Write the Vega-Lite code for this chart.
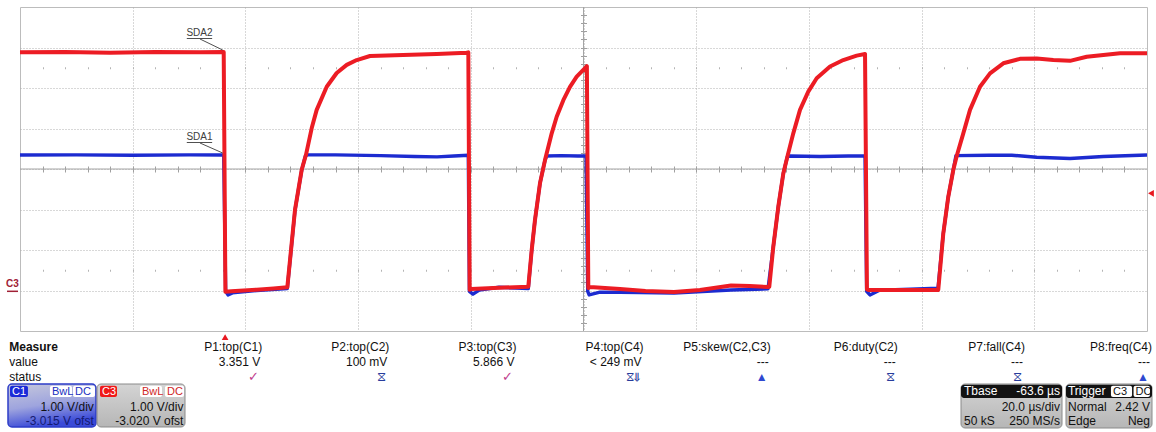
{
  "$schema": "https://vega.github.io/schema/vega-lite/v6.json",
  "width": 1127,
  "height": 324,
  "autosize": {"type": "none"},
  "padding": {"left": 20, "top": 7, "right": 9, "bottom": 101},
  "background": "white",
  "config": {"font": "Liberation Sans", "view": {"stroke": "#bcbcbc", "strokeWidth": 1}},
  "datasets": {
    "C1": [
      {"t": -100, "v": 3.366}, {"t": -90, "v": 3.37}, {"t": -80, "v": 3.36}, {"t": -70, "v": 3.37}, {"t": -63.85, "v": 3.366},
      {"t": -63.5, "v": 0.0}, {"t": -63.09, "v": -0.09}, {"t": -62.3, "v": -0.04}, {"t": -58, "v": 0.02}, {"t": -52.56, "v": 0.07},
      {"t": -51.2, "v": 2.0}, {"t": -50.01, "v": 2.99}, {"t": -49.35, "v": 3.34}, {"t": -49.0, "v": 3.37}, {"t": -44, "v": 3.37},
      {"t": -36, "v": 3.35}, {"t": -30, "v": 3.33}, {"t": -26, "v": 3.32}, {"t": -23, "v": 3.34}, {"t": -20.44, "v": 3.36},
      {"t": -20.25, "v": 0.0}, {"t": -19.61, "v": -0.07}, {"t": -18.5, "v": 0.03}, {"t": -15, "v": 0.1}, {"t": -12, "v": 0.08}, {"t": -9.8, "v": 0.07},
      {"t": -9.19, "v": 1.02}, {"t": -8.61, "v": 1.76}, {"t": -7.72, "v": 2.67}, {"t": -6.83, "v": 3.24}, {"t": -6.53, "v": 3.34},
      {"t": -4, "v": 3.35}, {"t": -1, "v": 3.34}, {"t": 0.45, "v": 3.34},
      {"t": 0.75, "v": 0.0}, {"t": 1.0, "v": -0.09}, {"t": 2.93, "v": -0.02}, {"t": 10, "v": -0.03}, {"t": 16.06, "v": -0.042}, {"t": 26.18, "v": 0.032}, {"t": 32.74, "v": 0.06},
      {"t": 33.68, "v": 1.1}, {"t": 34.57, "v": 2.09}, {"t": 35.46, "v": 2.91}, {"t": 36.17, "v": 3.32}, {"t": 36.6, "v": 3.34},
      {"t": 42, "v": 3.33}, {"t": 47, "v": 3.34}, {"t": 49.96, "v": 3.34},
      {"t": 50.25, "v": 0.0}, {"t": 50.84, "v": -0.09}, {"t": 52.62, "v": 0.03}, {"t": 58, "v": 0.05}, {"t": 62.91, "v": 0.074},
      {"t": 63.85, "v": 1.43}, {"t": 64.74, "v": 2.34}, {"t": 65.63, "v": 3.0}, {"t": 66.1, "v": 3.35}, {"t": 72, "v": 3.36},
      {"t": 76, "v": 3.36}, {"t": 80.43, "v": 3.31}, {"t": 86.34, "v": 3.28}, {"t": 92.25, "v": 3.33}, {"t": 100, "v": 3.366}
    ],
    "C3": [
      {"t": -100, "v": 5.9}, {"t": -92, "v": 5.91}, {"t": -84, "v": 5.89}, {"t": -76, "v": 5.91}, {"t": -68, "v": 5.9}, {"t": -63.85, "v": 5.91},
      {"t": -63.55, "v": -0.01}, {"t": -62.5, "v": 0.0}, {"t": -58, "v": 0.04}, {"t": -55, "v": 0.07}, {"t": -52.56, "v": 0.1},
      {"t": -51.2, "v": 2.01}, {"t": -50.61, "v": 2.5}, {"t": -50.01, "v": 3.0}, {"t": -49.25, "v": 3.37}, {"t": -48.23, "v": 4.03},
      {"t": -47.35, "v": 4.48}, {"t": -45.57, "v": 5.05}, {"t": -43.8, "v": 5.39}, {"t": -42.02, "v": 5.59}, {"t": -40.25, "v": 5.71},
      {"t": -37.89, "v": 5.81}, {"t": -32.03, "v": 5.835}, {"t": -26.05, "v": 5.86}, {"t": -20.73, "v": 5.89}, {"t": -20.44, "v": 5.9},
      {"t": -20.2, "v": 0.04}, {"t": -19.9, "v": 0.06}, {"t": -15, "v": 0.09}, {"t": -9.8, "v": 0.11},
      {"t": -9.19, "v": 1.02}, {"t": -8.61, "v": 1.76}, {"t": -7.72, "v": 2.67}, {"t": -6.83, "v": 3.24}, {"t": -5.64, "v": 3.9},
      {"t": -4.76, "v": 4.31}, {"t": -3.58, "v": 4.72}, {"t": -2.4, "v": 5.05}, {"t": -1.21, "v": 5.3}, {"t": 0.27, "v": 5.51}, {"t": 0.6, "v": 5.56},
      {"t": 0.85, "v": 0.08}, {"t": 1.15, "v": 0.107}, {"t": 6.48, "v": 0.057}, {"t": 11, "v": 0.01}, {"t": 16.06, "v": -0.017},
      {"t": 20.67, "v": 0.032}, {"t": 26.18, "v": 0.144}, {"t": 29.5, "v": 0.13}, {"t": 32.74, "v": 0.107}, {"t": 32.97, "v": 0.11},
      {"t": 33.68, "v": 1.1}, {"t": 34.57, "v": 2.09}, {"t": 35.46, "v": 2.91}, {"t": 36.17, "v": 3.32}, {"t": 37.23, "v": 3.9},
      {"t": 38.42, "v": 4.48}, {"t": 39.89, "v": 4.93}, {"t": 41.38, "v": 5.26}, {"t": 43.75, "v": 5.55}, {"t": 46.1, "v": 5.71},
      {"t": 48.48, "v": 5.82}, {"t": 49.96, "v": 5.86},
      {"t": 50.3, "v": 0.05}, {"t": 50.67, "v": 0.03}, {"t": 56, "v": 0.03}, {"t": 62.91, "v": 0.03}, {"t": 62.96, "v": 0.04},
      {"t": 63.85, "v": 1.43}, {"t": 64.74, "v": 2.34}, {"t": 65.63, "v": 3.0}, {"t": 66.23, "v": 3.34}, {"t": 67.4, "v": 3.9},
      {"t": 68.59, "v": 4.48}, {"t": 70.36, "v": 5.05}, {"t": 72.14, "v": 5.38}, {"t": 74.5, "v": 5.63}, {"t": 77.46, "v": 5.74},
      {"t": 80.43, "v": 5.75}, {"t": 83.37, "v": 5.71}, {"t": 86.34, "v": 5.69}, {"t": 89.3, "v": 5.79}, {"t": 92.25, "v": 5.835},
      {"t": 95.21, "v": 5.877}, {"t": 100, "v": 5.877}
    ],
    "traceLabels": [
      {"label": "SDA2", "t": -68.15, "v": 6.378},
      {"label": "SDA1", "t": -68.15, "v": 3.81}
    ],
    "traceLabelLines": [
      {"label": "SDA2", "part": "underline", "t": -70.4, "v": 6.242, "t2": -65.9, "v2": 6.242},
      {"label": "SDA2", "part": "leader", "t": -68.06, "v": 6.23, "t2": -64.03, "v2": 5.958},
      {"label": "SDA1", "part": "underline", "t": -70.4, "v": 3.674, "t2": -65.9, "v2": 3.674},
      {"label": "SDA1", "part": "leader", "t": -68.06, "v": 3.662, "t2": -64.03, "v2": 3.415}
    ],
    "markers": [
      {"marker": "trigger time", "t": -63.6, "v": -1.13},
      {"marker": "trigger level", "t": 100.7, "v": 2.42}
    ],
    "ground": [
      {"label": "C3", "t": -101.33, "v": 0.045, "t0": -102.31, "t1": -100.35, "level": 0.0}
    ],
    "rows": [
      {"row": "Measure", "line": 1},
      {"row": "value", "line": 2},
      {"row": "status", "line": 3}
    ],
    "meas": [
      {"p": 1, "name": "P1:top(C1)", "value": "3.351 V", "status": "ok", "icon": "✓"},
      {"p": 2, "name": "P2:top(C2)", "value": "100 mV", "status": "no signal", "icon": "⧖"},
      {"p": 3, "name": "P3:top(C3)", "value": "5.866 V", "status": "ok", "icon": "✓"},
      {"p": 4, "name": "P4:top(C4)", "value": "< 249 mV", "status": "underflow", "icon": "⧖⇓"},
      {"p": 5, "name": "P5:skew(C2,C3)", "value": "---", "status": "warning", "icon": "▲"},
      {"p": 6, "name": "P6:duty(C2)", "value": "---", "status": "no signal", "icon": "⧖"},
      {"p": 7, "name": "P7:fall(C4)", "value": "---", "status": "no signal", "icon": "⧖"},
      {"p": 8, "name": "P8:freq(C4)", "value": "---", "status": "warning", "icon": "▲"}
    ],
    "panels": [
      {"panel": "C1", "c0": -1.0, "c1": -0.3077, "l0": 3.467, "l1": 6.333},
      {"panel": "C3", "c0": -0.2998, "c1": 0.3925, "l0": 3.467, "l1": 6.333},
      {"panel": "Tbase", "c0": 6.4975, "c1": 7.292, "l0": 3.467, "l1": 6.4},
      {"panel": "Trigger", "c0": 7.3235, "c1": 8.0, "l0": 3.467, "l1": 6.4}
    ],
    "chips": [
      {"panel": "C1", "chip": "C1", "role": "C1 tag", "c0": -0.984, "c1": -0.843},
      {"panel": "C1", "chip": "BwL", "role": "C1 option", "c0": -0.67, "c1": -0.4965},
      {"panel": "C1", "chip": "DC", "role": "C1 option", "c0": -0.489, "c1": -0.3156},
      {"panel": "C3", "chip": "C3", "role": "C3 tag", "c0": -0.2762, "c1": -0.1425},
      {"panel": "C3", "chip": "BwL", "role": "C3 option", "c0": 0.0385, "c1": 0.2115},
      {"panel": "C3", "chip": "DC", "role": "C3 option", "c0": 0.2351, "c1": 0.3846},
      {"panel": "Trigger", "chip": "C3", "role": "trigger option", "c0": 7.677, "c1": 7.843},
      {"panel": "Trigger", "chip": "DC", "role": "trigger option", "c0": 7.855, "c1": 7.984}
    ],
    "settings": [
      {"panel": "C1", "text": "1.00 V/div", "side": "right", "role": "setting", "c": -0.325, "line": 5.0},
      {"panel": "C1", "text": "-3.015 V ofst", "side": "right", "role": "C1 offset", "c": -0.325, "line": 5.9},
      {"panel": "C3", "text": "1.00 V/div", "side": "right", "role": "setting", "c": 0.38, "line": 5.0},
      {"panel": "C3", "text": "-3.020 V ofst", "side": "right", "role": "setting", "c": 0.38, "line": 5.9},
      {"panel": "Tbase", "text": "Tbase", "side": "left", "role": "header", "c": 6.521, "line": 3.95},
      {"panel": "Tbase", "text": "-63.6 µs", "side": "right", "role": "header", "c": 7.276, "line": 3.95},
      {"panel": "Tbase", "text": "20.0 µs/div", "side": "right", "role": "setting", "c": 7.276, "line": 5.0},
      {"panel": "Tbase", "text": "50 kS", "side": "left", "role": "setting", "c": 6.521, "line": 5.9},
      {"panel": "Tbase", "text": "250 MS/s", "side": "right", "role": "setting", "c": 7.276, "line": 5.9},
      {"panel": "Trigger", "text": "Trigger", "side": "left", "role": "header", "c": 7.339, "line": 3.95},
      {"panel": "Trigger", "text": "Normal", "side": "left", "role": "setting", "c": 7.339, "line": 5.0},
      {"panel": "Trigger", "text": "2.42 V", "side": "right", "role": "setting", "c": 7.984, "line": 5.0},
      {"panel": "Trigger", "text": "Edge", "side": "left", "role": "setting", "c": 7.339, "line": 5.9},
      {"panel": "Trigger", "text": "Neg", "side": "right", "role": "setting", "c": 7.984, "line": 5.9}
    ]
  },
  "layer": [
    {
      "layer": [
        {
          "data": {"values": [{"t": 0}]},
          "mark": {"type": "rule", "color": "#a4a4a4", "strokeWidth": 1},
          "encoding": {
            "x": {"field": "t", "type": "quantitative", "scale": {"domain": [-100, 100], "nice": false, "zero": false},
              "axis": {"orient": "bottom", "offset": -165, "values": [-96,-92,-88,-84,-80,-76,-72,-68,-64,-60,-56,-52,-48,-44,-40,-36,-32,-28,-24,-20,-16,-12,-8,-4,0,4,8,12,16,20,24,28,32,36,40,44,48,52,56,60,64,68,72,76,80,84,88,92,96],
                "ticks": true, "tickSize": 6, "tickColor": "#a0a0a0", "tickWidth": 1, "labels": false, "domain": false, "grid": false, "title": null}}
          }
        },
        {
          "data": {"values": [{"v": 3.02}]},
          "mark": {"type": "rule", "color": "#a4a4a4", "strokeWidth": 1},
          "encoding": {
            "y": {"field": "v", "type": "quantitative", "scale": {"domain": [-0.98, 7.02], "nice": false, "zero": false},
              "axis": {"orient": "left", "offset": -566.5, "values": [-0.78,-0.58,-0.38,-0.18,0.02,0.22,0.42,0.62,0.82,1.02,1.22,1.42,1.62,1.82,2.02,2.22,2.42,2.62,2.82,3.02,3.22,3.42,3.62,3.82,4.02,4.22,4.42,4.62,4.82,5.02,5.22,5.42,5.62,5.82,6.02,6.22,6.42,6.62,6.82],
                "ticks": true, "tickSize": 6, "tickColor": "#a0a0a0", "tickWidth": 1, "labels": false, "domain": false, "grid": false, "title": null}}
          }
        },
        {
          "data": {"name": "C1"},
          "mark": {"type": "line", "color": "#1c2bd0", "strokeWidth": 3.4, "strokeJoin": "round"},
          "encoding": {
            "x": {"field": "t", "type": "quantitative", "scale": {"domain": [-100, 100], "nice": false, "zero": false},
              "axis": {"orient": "bottom", "values": [-80,-60,-40,-20,0,20,40,60,80], "grid": true, "gridColor": "#b0b0b0", "gridDash": [1, 2], "gridWidth": 1, "ticks": false, "labels": false, "domain": false, "title": null}},
            "y": {"field": "v", "type": "quantitative", "scale": {"domain": [-0.98, 7.02], "nice": false, "zero": false},
              "axis": {"orient": "left", "values": [0.02,1.02,2.02,3.02,4.02,5.02,6.02], "grid": true, "gridColor": "#b0b0b0", "gridDash": [1, 2], "gridWidth": 1, "ticks": false, "labels": false, "domain": false, "title": null}}
          }
        },
        {
          "data": {"name": "C3"},
          "mark": {"type": "line", "color": "#ec1c24", "strokeWidth": 4, "strokeJoin": "round"},
          "encoding": {
            "x": {"field": "t", "type": "quantitative", "scale": {"domain": [-100, 100], "nice": false, "zero": false},
              "axis": {"orient": "bottom", "offset": -264.25, "values": [-96,-92,-88,-84,-80,-76,-72,-68,-64,-60,-56,-52,-48,-44,-40,-36,-32,-28,-24,-20,-16,-12,-8,-4,0,4,8,12,16,20,24,28,32,36,40,44,48,52,56,60,64,68,72,76,80,84,88,92,96],
                "ticks": true, "tickSize": 2, "tickColor": "#b4b4b4", "tickWidth": 1, "labels": false, "domain": false, "grid": false, "title": null}},
            "y": {"field": "v", "type": "quantitative", "scale": {"domain": [-0.98, 7.02], "nice": false, "zero": false}, "axis": null}
          }
        },
        {
          "data": {"name": "traceLabelLines"},
          "mark": {"type": "rule", "color": "#505050", "strokeWidth": 1},
          "encoding": {
            "x": {"field": "t", "type": "quantitative", "scale": {"domain": [-100, 100], "nice": false, "zero": false},
              "axis": {"orient": "bottom", "offset": -61.75, "values": [-96,-92,-88,-84,-80,-76,-72,-68,-64,-60,-56,-52,-48,-44,-40,-36,-32,-28,-24,-20,-16,-12,-8,-4,0,4,8,12,16,20,24,28,32,36,40,44,48,52,56,60,64,68,72,76,80,84,88,92,96],
                "ticks": true, "tickSize": 2, "tickColor": "#b4b4b4", "tickWidth": 1, "labels": false, "domain": false, "grid": false, "title": null}},
            "x2": {"field": "t2"},
            "y": {"field": "v", "type": "quantitative", "scale": {"domain": [-0.98, 7.02], "nice": false, "zero": false}, "axis": null},
            "y2": {"field": "v2"}
          }
        },
        {
          "data": {"name": "traceLabels"},
          "mark": {"type": "text", "fontSize": 10, "color": "#404040", "align": "center", "baseline": "middle"},
          "encoding": {
            "x": {"field": "t", "type": "quantitative", "scale": {"domain": [-100, 100], "nice": false, "zero": false}, "axis": null},
            "y": {"field": "v", "type": "quantitative", "scale": {"domain": [-0.98, 7.02], "nice": false, "zero": false}, "axis": null},
            "text": {"field": "label"}
          }
        },
        {
          "data": {"name": "markers"},
          "mark": {"type": "point", "filled": true, "color": "#e81820", "opacity": 1, "size": 45},
          "encoding": {
            "x": {"field": "t", "type": "quantitative", "scale": {"domain": [-100, 100], "nice": false, "zero": false}, "axis": null},
            "y": {"field": "v", "type": "quantitative", "scale": {"domain": [-0.98, 7.02], "nice": false, "zero": false}, "axis": null},
            "shape": {"field": "marker", "type": "nominal", "scale": {"domain": ["trigger time", "trigger level"], "range": ["triangle-up", "triangle-left"]}, "legend": null}
          }
        },
        {
          "data": {"name": "ground"},
          "mark": {"type": "text", "fontSize": 10, "fontWeight": "bold", "color": "#a02035", "align": "center", "baseline": "bottom"},
          "encoding": {
            "x": {"field": "t", "type": "quantitative", "scale": {"domain": [-100, 100], "nice": false, "zero": false}, "axis": null},
            "y": {"field": "v", "type": "quantitative", "scale": {"domain": [-0.98, 7.02], "nice": false, "zero": false}, "axis": null},
            "text": {"field": "label"}
          }
        },
        {
          "data": {"name": "ground"},
          "mark": {"type": "rule", "color": "#a02035", "strokeWidth": 1.5},
          "encoding": {
            "x": {"field": "t0", "type": "quantitative", "scale": {"domain": [-100, 100], "nice": false, "zero": false}, "axis": null},
            "x2": {"field": "t1"},
            "y": {"field": "level", "type": "quantitative", "scale": {"domain": [-0.98, 7.02], "nice": false, "zero": false}, "axis": null}
          }
        }
      ],
      "resolve": {"axis": {"x": "independent", "y": "independent"}}
    },
    {
      "layer": [
        {
          "data": {"name": "panels"},
          "transform": [{"filter": "datum.panel === 'C1'"}],
          "mark": {"type": "rect", "cornerRadius": 4, "stroke": "#2c3cc8", "strokeWidth": 1.5,
            "fill": {"gradient": "linear", "x1": 0, "y1": 0, "x2": 0.3, "y2": 1, "stops": [{"offset": 0, "color": "#c6c8dc"}, {"offset": 0.55, "color": "#9ea4de"}, {"offset": 1, "color": "#3a4ad8"}]}},
          "encoding": {
            "x": {"field": "c0", "type": "quantitative", "scale": {"domain": [-1, 8], "range": [-12, 1132], "nice": false, "zero": false}, "axis": null},
            "x2": {"field": "c1"},
            "y": {"field": "l0", "type": "quantitative", "scale": {"domain": [0, 7], "range": [325, 430], "nice": false, "zero": false}, "axis": null},
            "y2": {"field": "l1"}
          }
        },
        {
          "data": {"name": "panels"},
          "transform": [{"filter": "datum.panel !== 'C1'"}],
          "mark": {"type": "rect", "cornerRadius": 4, "stroke": "#8a8a8a", "strokeWidth": 1,
            "fill": {"gradient": "linear", "x1": 0, "y1": 0, "x2": 0, "y2": 1, "stops": [{"offset": 0, "color": "#d4d4d4"}, {"offset": 1, "color": "#b6b6b6"}]}},
          "encoding": {
            "x": {"field": "c0", "type": "quantitative", "scale": {"domain": [-1, 8], "range": [-12, 1132], "nice": false, "zero": false}, "axis": null},
            "x2": {"field": "c1"},
            "y": {"field": "l0", "type": "quantitative", "scale": {"domain": [0, 7], "range": [325, 430], "nice": false, "zero": false}, "axis": null},
            "y2": {"field": "l1"}
          }
        },
        {
          "data": {"name": "panels"},
          "transform": [{"filter": "datum.panel === 'Tbase' || datum.panel === 'Trigger'"}],
          "mark": {"type": "rect", "cornerRadius": 3, "color": "#121212"},
          "encoding": {
            "x": {"field": "c0", "type": "quantitative", "scale": {"domain": [-1, 8], "range": [-12, 1132], "nice": false, "zero": false}, "axis": null},
            "x2": {"field": "c1"},
            "y": {"datum": 3.52, "type": "quantitative", "scale": {"domain": [0, 7], "range": [325, 430], "nice": false, "zero": false}, "axis": null},
            "y2": {"datum": 4.4}
          }
        },
        {
          "data": {"name": "chips"},
          "mark": {"type": "rect", "cornerRadius": 2},
          "encoding": {
            "x": {"field": "c0", "type": "quantitative", "scale": {"domain": [-1, 8], "range": [-12, 1132], "nice": false, "zero": false}, "axis": null},
            "x2": {"field": "c1"},
            "y": {"datum": 3.58, "type": "quantitative", "scale": {"domain": [0, 7], "range": [325, 430], "nice": false, "zero": false}, "axis": null},
            "y2": {"datum": 4.33},
            "fill": {"field": "role", "type": "nominal", "scale": {"domain": ["C1 tag", "C3 tag", "C1 option", "C3 option", "trigger option"], "range": ["#1a2ad8", "#f01818", "#ffffff", "#ffffff", "#ffffff"]}, "legend": null}
          }
        },
        {
          "data": {"name": "chips"},
          "mark": {"type": "text", "fontSize": 11, "align": "left", "baseline": "middle", "dx": 2},
          "encoding": {
            "x": {"field": "c0", "type": "quantitative", "scale": {"domain": [-1, 8], "range": [-12, 1132], "nice": false, "zero": false}, "axis": null},
            "y": {"datum": 3.97, "type": "quantitative", "scale": {"domain": [0, 7], "range": [325, 430], "nice": false, "zero": false}, "axis": null},
            "text": {"field": "chip"},
            "color": {"field": "role", "type": "nominal", "scale": {"domain": ["C1 tag", "C3 tag", "C1 option", "C3 option", "trigger option"], "range": ["#ffffff", "#ffffff", "#2030c0", "#d02828", "#101010"]}, "legend": null}
          }
        },
        {
          "data": {"name": "settings"},
          "transform": [{"filter": "datum.side === 'right'"}],
          "mark": {"type": "text", "fontSize": 12, "align": "right", "baseline": "middle"},
          "encoding": {
            "x": {"field": "c", "type": "quantitative", "scale": {"domain": [-1, 8], "range": [-12, 1132], "nice": false, "zero": false}, "axis": null},
            "y": {"field": "line", "type": "quantitative", "scale": {"domain": [0, 7], "range": [325, 430], "nice": false, "zero": false}, "axis": null},
            "text": {"field": "text"},
            "color": {"field": "role", "type": "nominal", "scale": {"domain": ["setting", "header", "C1 offset"], "range": ["#111111", "#ffffff", "#141a70"]}, "legend": null}
          }
        },
        {
          "data": {"name": "settings"},
          "transform": [{"filter": "datum.side === 'left'"}],
          "mark": {"type": "text", "fontSize": 12, "align": "left", "baseline": "middle"},
          "encoding": {
            "x": {"field": "c", "type": "quantitative", "scale": {"domain": [-1, 8], "range": [-12, 1132], "nice": false, "zero": false}, "axis": null},
            "y": {"field": "line", "type": "quantitative", "scale": {"domain": [0, 7], "range": [325, 430], "nice": false, "zero": false}, "axis": null},
            "text": {"field": "text"},
            "color": {"field": "role", "type": "nominal", "scale": {"domain": ["setting", "header"], "range": ["#111111", "#ffffff"]}, "legend": null}
          }
        },
        {
          "data": {"name": "rows"},
          "transform": [{"filter": "datum.row === 'Measure'"}],
          "mark": {"type": "text", "fontSize": 12, "fontWeight": "bold", "align": "left", "baseline": "middle", "color": "#111111"},
          "encoding": {
            "x": {"datum": -0.99, "type": "quantitative", "scale": {"domain": [-1, 8], "range": [-12, 1132], "nice": false, "zero": false}, "axis": null},
            "y": {"field": "line", "type": "quantitative", "scale": {"domain": [0, 7], "range": [325, 430], "nice": false, "zero": false}, "axis": null},
            "text": {"field": "row"}
          }
        },
        {
          "data": {"name": "rows"},
          "transform": [{"filter": "datum.row !== 'Measure'"}],
          "mark": {"type": "text", "fontSize": 12, "align": "left", "baseline": "middle", "color": "#111111"},
          "encoding": {
            "x": {"datum": -0.99, "type": "quantitative", "scale": {"domain": [-1, 8], "range": [-12, 1132], "nice": false, "zero": false}, "axis": null},
            "y": {"field": "line", "type": "quantitative", "scale": {"domain": [0, 7], "range": [325, 430], "nice": false, "zero": false}, "axis": null},
            "text": {"field": "row"}
          }
        },
        {
          "data": {"name": "meas"},
          "mark": {"type": "text", "fontSize": 12, "align": "right", "baseline": "middle", "color": "#111111"},
          "encoding": {
            "x": {"field": "p", "type": "quantitative", "scale": {"domain": [-1, 8], "range": [-12, 1132], "nice": false, "zero": false}, "axis": null},
            "y": {"datum": 1, "type": "quantitative", "scale": {"domain": [0, 7], "range": [325, 430], "nice": false, "zero": false}, "axis": null},
            "text": {"field": "name"}
          }
        },
        {
          "data": {"name": "meas"},
          "mark": {"type": "text", "fontSize": 12, "align": "right", "baseline": "middle", "color": "#111111", "dx": -2},
          "encoding": {
            "x": {"field": "p", "type": "quantitative", "scale": {"domain": [-1, 8], "range": [-12, 1132], "nice": false, "zero": false}, "axis": null},
            "y": {"datum": 2, "type": "quantitative", "scale": {"domain": [0, 7], "range": [325, 430], "nice": false, "zero": false}, "axis": null},
            "text": {"field": "value"}
          }
        },
        {
          "data": {"name": "meas"},
          "mark": {"type": "text", "align": "right", "baseline": "middle", "dx": -3},
          "encoding": {
            "x": {"field": "p", "type": "quantitative", "scale": {"domain": [-1, 8], "range": [-12, 1132], "nice": false, "zero": false}, "axis": null},
            "y": {"datum": 3, "type": "quantitative", "scale": {"domain": [0, 7], "range": [325, 430], "nice": false, "zero": false}, "axis": null},
            "text": {"field": "icon"},
            "size": {"field": "status", "type": "nominal", "scale": {"domain": ["ok", "no signal", "underflow", "warning"], "range": [13, 12, 12, 10]}, "legend": null},
            "color": {"field": "status", "type": "nominal", "scale": {"domain": ["ok", "no signal", "underflow", "warning"], "range": ["#c03c8c", "#283c9c", "#283c9c", "#2f48d0"]}, "legend": null}
          }
        }
      ],
      "resolve": {"scale": {"color": "independent", "fill": "independent"}}
    }
  ],
  "resolve": {"scale": {"x": "independent", "y": "independent"}, "axis": {"x": "independent", "y": "independent"}}
}
